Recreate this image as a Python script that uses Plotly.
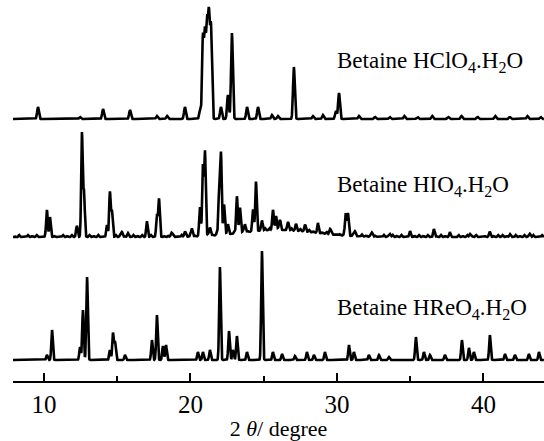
import numpy as np
import plotly.graph_objects as go

# Peak lists: (2theta in degrees, peak height in plot units)
hclo4_pos = [9.59, 12.46, 14.03, 15.87, 17.71, 18.40, 19.62, 20.65, 20.85, 20.99, 21.13, 21.26, 21.40,
             22.08, 22.56, 22.83, 23.86, 24.61, 25.56, 25.97, 27.06, 28.36, 29.04, 29.93, 30.14,
             31.5, 32.6, 33.6, 34.6, 35.5, 36.5, 37.6, 38.5, 39.6, 40.8, 41.8, 43.0, 43.9]
hclo4_int = [12, 2, 10, 9, 3, 3, 12, 8, 80, 82, 90, 98, 90,
             12, 24, 86, 12, 12, 4, 3, 52, 3, 4, 8, 26,
             3, 2, 2, 3, 2, 3, 2, 3, 2, 3, 2, 3, 2]

hio4_pos = [10.2, 10.41, 12.25, 12.59, 12.73, 14.3, 14.5, 14.64, 15.32, 15.73, 17.03, 17.71, 17.85,
            18.7, 19.62, 20.1, 20.65, 20.85, 20.99, 21.33, 21.95, 22.08, 22.29, 22.56, 23.17, 23.38,
            23.72, 24.27, 24.47, 24.88, 25.63, 25.84, 26.11, 26.66, 27.2, 27.82, 28.7, 29.52,
            30.6, 30.75, 31.23, 32.39, 33.62, 34.98, 36.62, 37.71, 39.08, 40.44, 41.81, 43.17]
hio4_int = [27, 18, 10, 104, 45, 10, 45, 25, 5, 4, 15, 22, 37,
            4, 5, 8, 28, 70, 84, 8, 40, 80, 30, 10, 37, 25,
            8, 22, 48, 10, 20, 14, 10, 8, 6, 7, 8, 5,
            22, 22, 5, 4, 3, 4, 8, 3, 3, 4, 3, 3]
# small jagged noise of the HIO4 trace, one value per 0.3 degree from 8.0
hio4_noise = [1, 2, 0, 2, 1, 2, 0, 1, 2, 1, 0, 2, 1, 2, 2, 0, 1, 2, 1, 2,
              0, 2, 1, 2, 2, 1, 0, 2, 1, 2, 1, 2, 0, 2, 1, 1, 2, 0, 2, 1,
              2, 1, 2, 0, 2, 1, 2, 2, 1, 0, 2, 1, 2, 1, 0, 2, 1, 2, 2, 1,
              2, 0, 1, 2, 1, 2, 0, 2, 1, 2, 1, 2, 2, 0, 1, 2, 1, 2, 0, 2,
              1, 2, 1, 0, 2, 1, 2, 1, 2, 0, 2, 1, 2, 1, 2, 0, 1, 2, 1, 2,
              0, 2, 1, 2, 1, 2, 0, 1, 2, 1, 2, 2, 1, 0, 2, 1, 2, 1, 2, 0, 2]
# broad amorphous hump of the HIO4 trace: (centre, height, width)
hio4_hump = (26.0, 7, 6.0)

hreo4_pos = [10.2, 10.55, 12.46, 12.66, 12.94, 14.5, 14.71, 14.85, 15.53, 17.37, 17.71, 18.12, 18.33,
             20.51, 20.85, 21.33, 22.01, 22.63, 22.9, 23.17, 23.86, 24.88, 25.63, 26.25, 27.13,
             27.95, 28.43, 29.18, 30.82, 31.16, 32.18, 32.87, 33.55, 35.39, 35.94, 36.35, 37.37,
             38.53, 39.01, 39.35, 40.44, 41.47, 42.15, 43.1, 43.79]
hreo4_int = [5, 30, 13, 50, 83, 10, 27, 18, 5, 20, 45, 14, 15,
             8, 8, 10, 93, 29, 10, 24, 8, 109, 8, 6, 4,
             8, 5, 8, 15, 8, 5, 5, 3, 23, 8, 5, 5,
             20, 12, 8, 25, 6, 5, 6, 8]

baselines = [262, 144, 21]
labels = ["Betaine HClO<sub>4</sub>.H<sub>2</sub>O",
          "Betaine HIO<sub>4</sub>.H<sub>2</sub>O",
          "Betaine HReO<sub>4</sub>.H<sub>2</sub>O"]
label_y = [319, 195, 72]

x_ticks = [10, 20, 30, 40]

tt = np.arange(7.88, 44.14, 0.01)


def pattern(pos, inten, fwhm):
    s = fwhm / 2.3548
    y = np.zeros_like(tt)
    for p, h in zip(pos, inten):
        y += h * np.exp(-0.5 * ((tt - p) / s) ** 2)
    return y


y1 = pattern(hclo4_pos, hclo4_int, 0.14) + baselines[0]
y2 = pattern(hio4_pos, hio4_int, 0.12) + baselines[1]
noise_x = 8.0 + 0.3 * np.arange(len(hio4_noise))
y2 += pattern(list(noise_x), hio4_noise, 0.1)
c, h, w = hio4_hump
y2 += h * np.exp(-0.5 * ((tt - c) / (w / 2.3548)) ** 2)
y3 = pattern(hreo4_pos, hreo4_int, 0.12) + baselines[2]

fig = go.Figure()
for yy in (y1, y2, y3):
    fig.add_trace(go.Scatter(x=tt, y=yy, mode="lines",
                             line=dict(color="black", width=2.6), showlegend=False))

for lab, ly in zip(labels, label_y):
    fig.add_annotation(x=29.86, y=ly, xref="x", yref="y", text=lab, showarrow=False,
                       xanchor="left", yanchor="middle",
                       font=dict(family="Liberation Serif", size=23, color="black"))

fig.update_layout(
    width=544, height=441,
    margin=dict(l=13, r=0, t=0, b=60),
    paper_bgcolor="white", plot_bgcolor="white",
    font=dict(family="Liberation Serif", color="black"),
)
fig.update_xaxes(range=[7.885, 44.135], tickvals=x_ticks, ticks="inside", ticklen=8, tickwidth=2,
                 tickcolor="black", showline=True, linecolor="black", linewidth=2,
                 showgrid=False, zeroline=False, automargin=False,
                 tickfont=dict(family="Liberation Serif", size=25, color="black"),
                 minor=dict(ticks="inside", ticklen=5, tickwidth=2, tickcolor="black",
                            tickvals=[15, 25, 35], showgrid=False),
                 title=dict(text="2 <i>θ</i>/ degree", standoff=6,
                            font=dict(family="Liberation Serif", size=22, color="black")))
fig.update_yaxes(visible=False, range=[0, 381])

fig.write_html("out.html", config={"displayModeBar": False},
               post_script="document.body.style.margin='0px';")
